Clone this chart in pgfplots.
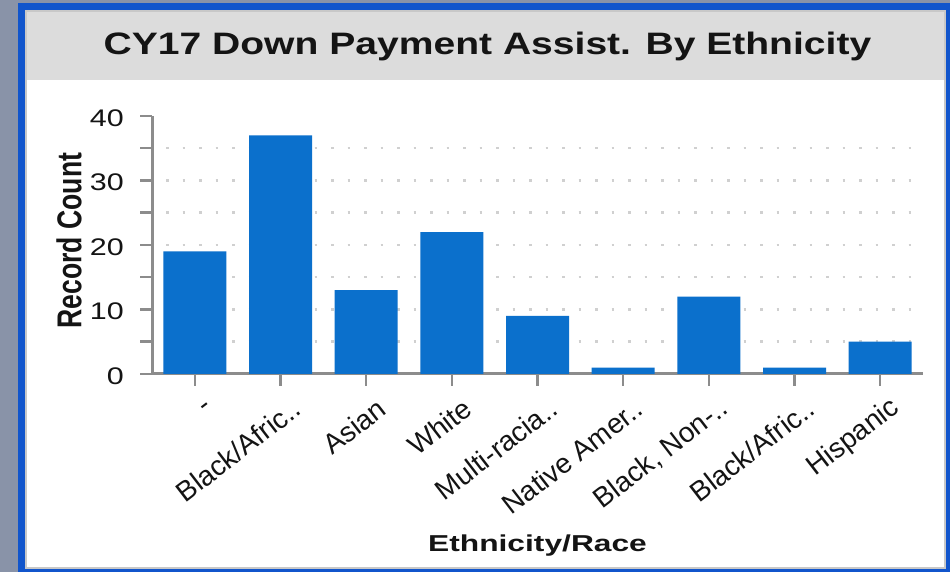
\documentclass[border=0pt]{standalone}
\usepackage{fontspec}
\setmainfont{Liberation Sans}
\newfontfamily\titlefont[FakeStretch=1.26]{Liberation Sans}
\newfontfamily\labfont[FakeStretch=1.38]{Liberation Sans}
\newfontfamily\ylabfont[FakeStretch=0.77]{Liberation Sans}
\newfontfamily\ytickfont[FakeStretch=1.27]{Liberation Sans}
\usepackage{pgfplots}
\pgfplotsset{compat=1.18}
\definecolor{bgout}{RGB}{137,147,168}
\definecolor{frameblue}{RGB}{17,85,204}
\definecolor{innerline}{RGB}{200,200,200}
\definecolor{titlebar}{RGB}{220,220,220}
\definecolor{barblue}{RGB}{11,112,204}
\definecolor{axgray}{RGB}{140,140,140}
\definecolor{griddot}{RGB}{208,208,208}
\definecolor{txt}{RGB}{20,20,20}
\begin{document}
\begin{tikzpicture}
\useasboundingbox (0pt,0pt) rectangle (950pt,572pt);
\fill[bgout] (0pt,0pt) rectangle (950pt,572pt);
\fill[frameblue] (18pt,0pt) rectangle (950pt,568.5pt);
\fill[innerline] (25pt,3pt) rectangle (946pt,561.5pt);
\fill[white] (27pt,5pt) rectangle (944pt,560pt);
\fill[titlebar] (27pt,492pt) rectangle (944pt,560pt);
\node[anchor=base, font=\titlefont\bfseries\fontsize{31}{36}\selectfont, text=txt, inner sep=0pt] at (487.5pt,517pt) {CY17 Down Payment Assist. By Ethnicity};
\begin{axis}[
  at={(152pt,198pt)}, anchor=south west,
  scale only axis, width=771pt, height=258pt,
  xmin=-0.5, xmax=8.5, ymin=0, ymax=40,
  enlargelimits=false,
  axis lines=left,
  axis line style={-, draw=axgray, line width=3pt},
  tick align=outside,
  tick style={draw=axgray, line width=2.5pt},
  major tick length=12pt, minor tick length=12pt,
  ytick={0,10,20,30,40},
  minor ytick={5,15,25,35},
  xtick={0,1,2,3,4,5,6,7,8},
  xticklabels={-,Black/Afric..,Asian,White,Multi-racia..,Native Amer..,{Black, Non-..},Black/Afric..,Hispanic},
  extra y ticks={5,10,15,20,25,30,35},
  extra y tick labels={},
  extra y tick style={grid=major, major tick length=0pt},
  major grid style={draw=griddot, line width=2.5pt, dash pattern=on 2.5pt off 14pt, dash phase=2.5pt},
  /pgf/number format/assume math mode=true,
  yticklabel style={font=\ytickfont\fontsize{24}{24}\selectfont, text=txt, inner sep=0pt, xshift=-16pt, yshift=-2pt},
  xticklabel style={font=\fontsize{28}{28}\selectfont, text=txt, anchor=east, inner sep=0pt, xshift=16pt, yshift=-19pt, rotate=37.6},
  xlabel={Ethnicity/Race},
  xlabel style={at={(axis description cs:0.5,-0.689)}, anchor=base, font=\labfont\bfseries\fontsize{23}{23}\selectfont, text=txt, inner sep=0pt},
  ylabel={Record Count},
  ylabel style={at={(axis description cs:-0.1077,0.517)}, anchor=center, font=\ylabfont\bfseries\fontsize{34.5}{34.5}\selectfont, text=txt, inner sep=0pt},
]
\addplot[ybar, bar width=63pt, fill=barblue, draw=none] coordinates {
  (0,19) (1,37) (2,13) (3,22) (4,9) (5,1) (6,12) (7,1) (8,5)
};
\end{axis}
\end{tikzpicture}
\end{document}
